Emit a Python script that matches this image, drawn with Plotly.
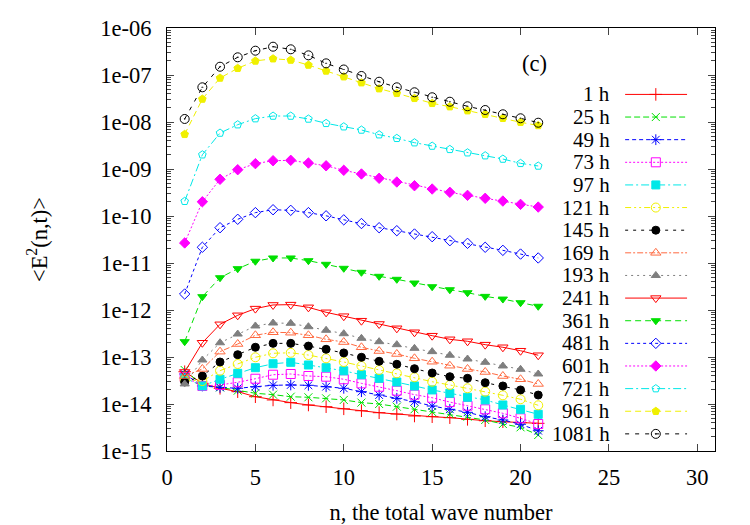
import plotly.graph_objects as go

n = list(range(1, 22))

labels = ["1 h", "25 h", "49 h", "73 h", "97 h", "121 h", "145 h", "169 h", "193 h",
          "241 h", "361 h", "481 h", "601 h", "721 h", "961 h", "1081 h"]

e_1h = [4.86e-14, 2.75e-14, 2.16e-14, 1.83e-14, 1.43e-14, 1.22e-14, 1.07e-14, 9.53e-15, 8.77e-15, 7.91e-15,
        7.19e-15, 6.53e-15, 6.12e-15, 5.56e-15, 5.37e-15, 5.12e-15, 4.72e-15, 4.41e-15, 4.20e-15, 4.00e-15, 3.88e-15]
e_25h = [5.29e-14, 2.54e-14, 2.26e-14, 1.92e-14, 1.69e-14, 1.58e-14, 1.43e-14, 1.39e-14, 1.32e-14, 1.22e-14,
         1.07e-14, 1.00e-14, 8.77e-15, 7.71e-15, 6.76e-15, 6.12e-15, 5.37e-15, 4.57e-15, 3.75e-15, 3.19e-15, 2.19e-15]
e_49h = [4.35e-14, 2.42e-14, 2.26e-14, 2.16e-14, 2.33e-14, 2.50e-14, 2.54e-14, 2.50e-14, 2.33e-14, 2.16e-14,
         1.83e-14, 1.55e-14, 1.32e-14, 1.12e-14, 9.06e-15, 7.71e-15, 6.65e-15, 5.37e-15, 4.57e-15, 3.70e-15, 2.70e-15]
e_73h = [3.75e-14, 2.42e-14, 2.54e-14, 2.90e-14, 3.45e-14, 4.20e-14, 4.35e-14, 3.94e-14, 3.81e-14, 3.36e-14,
         2.75e-14, 2.33e-14, 1.92e-14, 1.58e-14, 1.36e-14, 1.10e-14, 9.20e-15, 7.71e-15, 6.34e-15, 4.96e-15, 3.75e-15]
e_97h = [3.57e-14, 2.42e-14, 3.36e-14, 4.50e-14, 5.92e-14, 7.19e-14, 7.71e-14, 6.76e-14, 5.92e-14, 5.08e-14,
         4.20e-14, 3.52e-14, 2.94e-14, 2.42e-14, 1.99e-14, 1.69e-14, 1.39e-14, 1.22e-14, 9.53e-15, 7.71e-15, 6.04e-15]
e_121h = [3.24e-14, 3.08e-14, 5.12e-14, 7.10e-14, 9.86e-14, 1.20e-13, 1.23e-13, 1.10e-13, 9.38e-14, 7.83e-14,
          6.44e-14, 5.29e-14, 4.50e-14, 3.70e-14, 2.98e-14, 2.54e-14, 2.16e-14, 1.83e-14, 1.53e-14, 1.26e-14, 9.38e-15]
e_145h = [2.94e-14, 3.94e-14, 7.83e-14, 1.12e-13, 1.61e-13, 1.95e-13, 1.95e-13, 1.71e-13, 1.46e-13, 1.22e-13,
          9.86e-14, 8.11e-14, 7.00e-14, 5.64e-14, 4.57e-14, 3.81e-14, 3.52e-14, 2.84e-14, 2.42e-14, 1.99e-14, 1.55e-14]
e_169h = [3.94e-14, 5.56e-14, 1.30e-13, 1.89e-13, 2.90e-13, 3.36e-13, 3.29e-13, 2.90e-13, 2.38e-13, 2.08e-13,
          1.61e-13, 1.34e-13, 1.16e-13, 9.38e-14, 7.94e-14, 6.53e-14, 5.56e-14, 4.80e-14, 3.94e-14, 3.36e-14, 2.67e-14]
e_193h = [2.67e-14, 8.63e-14, 2.01e-13, 3.08e-13, 4.57e-13, 5.29e-13, 5.21e-13, 4.41e-13, 3.70e-13, 3.13e-13,
          2.50e-13, 2.12e-13, 1.83e-13, 1.53e-13, 1.30e-13, 1.09e-13, 9.06e-14, 7.71e-14, 6.44e-14, 5.47e-14, 4.35e-14]
e_241h = [4.80e-14, 2.01e-13, 4.96e-13, 7.71e-13, 1.07e-12, 1.28e-12, 1.30e-12, 1.14e-12, 8.93e-13, 7.38e-13,
          5.92e-13, 5.04e-13, 4.08e-13, 3.36e-13, 2.84e-13, 2.38e-13, 2.16e-13, 1.83e-13, 1.61e-13, 1.36e-13, 1.09e-13]
e_361h = [2.12e-13, 1.92e-12, 4.86e-12, 7.57e-12, 1.09e-11, 1.28e-11, 1.28e-11, 1.12e-11, 9.38e-12, 7.71e-12,
          6.34e-12, 5.21e-12, 4.50e-12, 3.75e-12, 3.13e-12, 2.70e-12, 2.33e-12, 1.95e-12, 1.71e-12, 1.43e-12, 1.20e-12]
e_481h = [2.19e-12, 2.16e-11, 5.64e-11, 8.51e-11, 1.18e-10, 1.36e-10, 1.32e-10, 1.18e-10, 1.01e-10, 8.29e-11,
          6.92e-11, 5.64e-11, 4.87e-11, 4.14e-11, 3.63e-11, 2.98e-11, 2.62e-11, 2.16e-11, 1.86e-11, 1.55e-11, 1.28e-11]
e_601h = [2.67e-11, 2.01e-10, 6.04e-10, 9.66e-10, 1.30e-09, 1.50e-09, 1.53e-09, 1.34e-09, 1.17e-09, 9.38e-10,
          7.83e-10, 6.34e-10, 5.29e-10, 4.41e-10, 3.75e-10, 3.19e-10, 2.75e-10, 2.38e-10, 2.08e-10, 1.77e-10, 1.55e-10]
e_721h = [2.06e-10, 2.01e-09, 5.83e-09, 8.77e-09, 1.18e-08, 1.34e-08, 1.34e-08, 1.16e-08, 9.38e-09, 7.94e-09,
          6.76e-09, 5.37e-09, 4.50e-09, 3.63e-09, 3.08e-09, 2.62e-09, 2.22e-09, 1.92e-09, 1.63e-09, 1.32e-09, 1.16e-09]
e_961h = [5.47e-09, 3.08e-08, 8.63e-08, 1.39e-07, 1.99e-07, 2.22e-07, 2.08e-07, 1.63e-07, 1.22e-07, 9.20e-08,
          6.86e-08, 5.12e-08, 4.08e-08, 3.19e-08, 2.50e-08, 2.12e-08, 1.74e-08, 1.46e-08, 1.20e-08, 9.86e-09, 8.43e-09]
e_1081h = [1.16e-08, 5.47e-08, 1.50e-07, 2.38e-07, 3.29e-07, 4.00e-07, 3.52e-07, 2.62e-07, 1.77e-07, 1.31e-07,
           9.53e-08, 7.19e-08, 5.47e-08, 4.29e-08, 3.36e-08, 2.70e-08, 2.16e-08, 1.80e-08, 1.46e-08, 1.20e-08, 9.66e-09]

series = [e_1h, e_25h, e_49h, e_73h, e_97h, e_121h, e_145h, e_169h, e_193h,
          e_241h, e_361h, e_481h, e_601h, e_721h, e_961h, e_1081h]

y_tickvals = [1e-15, 1e-14, 1e-13, 1e-12, 1e-11, 1e-10, 1e-09, 1e-08, 1e-07, 1e-06]
y_ticktext = ["1e-15", "1e-14", "1e-13", "1e-12", "1e-11", "1e-10", "1e-09", "1e-08", "1e-07", "1e-06"]
x_tickvals = [0, 5, 10, 15, 20, 25, 30]

# styles (gnuplot-like)
colors = ["#ff0000", "#00e000", "#0000ff", "#ff00ff", "#00e8e8", "#f0f000", "#000000", "#ff6a40", "#7f7f7f",
          "#ff0000", "#00e000", "#0000ff", "#ff00ff", "#00e8e8", "#f0f000", "#000000"]
symbols = ["cross-thin-open", "x-thin-open", "asterisk-open", "square-open", "square", "circle-open",
           "circle", "triangle-up-open", "triangle-up", "triangle-down-open", "triangle-down",
           "diamond-open", "diamond", "pentagon-open", "pentagon", "circle-open-dot"]
sizes = [9, 8, 9, 9, 8, 9, 8, 9, 8, 9, 8, 8, 8, 8, 8, 9]
dashes = ["solid", "6px,3px", "4px,3px", "2px,2px", "8px,3px,2px,3px", "6px,3px,2px,3px,2px,3px",
          "3px,5px", "6px,2px,2px,2px", "2px,4px", "solid", "6px,4px", "3px,3px", "2px,2px",
          "8px,3px,2px,3px", "6px,4px", "4px,6px"]

FONT = "Liberation Serif, Times New Roman, serif"
FS = 22.5
KEY_FS = 21

fig = go.Figure()
for vals, c, s, sz, d in zip(series, colors, symbols, sizes, dashes):
    fig.add_trace(go.Scatter(
        x=n, y=vals, mode="lines+markers", showlegend=False,
        line=dict(color=c, width=1, dash=d),
        marker=dict(symbol=s, size=sz, color=c, line=dict(color=c, width=1)),
    ))

# custom gnuplot-style key (text left of sample), in plot-fraction coordinates
key_top, key_step = 0.843, 0.0535
lx0, lxm, lx1, tx = 0.836, 0.892, 0.949, 0.812
for i, (lab, c, s, sz, d) in enumerate(zip(labels, colors, symbols, sizes, dashes)):
    yy = key_top - i * key_step
    fig.add_trace(go.Scatter(
        x=[lx0, lxm, lx1], y=[yy, yy, yy], xaxis="x2", yaxis="y2",
        mode="lines+markers", showlegend=False, hoverinfo="skip",
        line=dict(color=c, width=1, dash=d),
        marker=dict(symbol=s, size=sz, color=c, line=dict(color=c, width=1), opacity=[0, 1, 0]),
    ))
    fig.add_annotation(x=tx, y=yy, xref="x2", yref="y2", text=lab, showarrow=False,
                       xanchor="right", yanchor="middle", font=dict(family=FONT, size=KEY_FS, color="black"))

fig.add_annotation(x=0.67, y=0.917, xref="x2", yref="y2", text="(c)", showarrow=False,
                   xanchor="center", yanchor="middle", font=dict(family=FONT, size=FS, color="black"))

fig.update_layout(
    width=750, height=525,
    margin=dict(l=167, r=35, t=28, b=74),
    paper_bgcolor="white", plot_bgcolor="white",
    font=dict(family=FONT, size=FS, color="black"),
    xaxis=dict(
        range=[0, 31], tickvals=x_tickvals, ticks="inside", ticklen=7, tickwidth=1,
        showline=True, linecolor="black", linewidth=1, mirror="ticks", showgrid=False, zeroline=False,
        ticklabelstandoff=6, automargin=False,
        title=dict(text="n, the total wave number", standoff=17, font=dict(size=FS)),
        tickfont=dict(size=FS),
    ),
    yaxis=dict(
        type="log", range=[-15, -6], tickvals=y_tickvals, ticktext=y_ticktext,
        ticks="inside", ticklen=7, tickwidth=1,
        minor=dict(ticks="inside", ticklen=4, dtick="D1", showgrid=False),
        showline=True, linecolor="black", linewidth=1, mirror="ticks", showgrid=False, zeroline=False,
        ticklabelstandoff=10, automargin=False,
        title=dict(text="&lt;E<sup>2</sup>(n,t)&gt;", standoff=46, font=dict(size=FS)),
        tickfont=dict(size=FS),
    ),
    xaxis2=dict(overlaying="x", range=[0, 1], visible=False),
    yaxis2=dict(overlaying="y", range=[0, 1], visible=False),
)

fig.write_html("out.html")
